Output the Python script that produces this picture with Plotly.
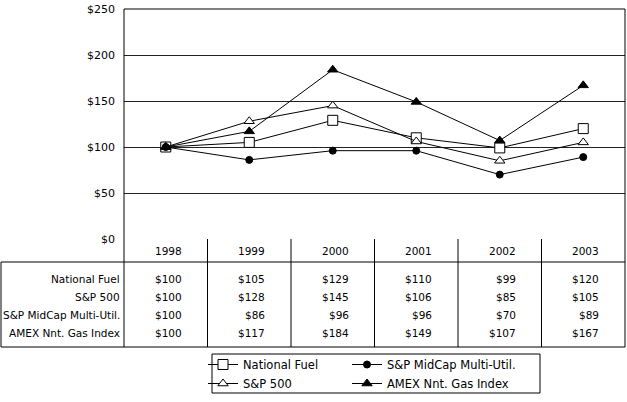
import plotly.graph_objects as go

years = ['1998', '1999', '2000', '2001', '2002', '2003']
series_names = ['National Fuel', 'S&P 500', 'S&P MidCap Multi-Util.', 'AMEX Nnt. Gas Index']
national_fuel = [100, 105, 129, 110, 99, 120]
sp500 = [100, 128, 145, 106, 85, 105]
midcap_util = [100, 86, 96, 96, 70, 89]
amex_gas = [100, 117, 184, 149, 107, 167]
y_ticks = [0, 50, 100, 150, 200, 250]

values = {
    'National Fuel': national_fuel,
    'S&P 500': sp500,
    'S&P MidCap Multi-Util.': midcap_util,
    'AMEX Nnt. Gas Index': amex_gas,
}

# marker style per series; left legend column / right legend column
styles = {
    'National Fuel': dict(symbol='square', size=10, color='white', legend='legend'),
    'S&P 500': dict(symbol='triangle-up', size=9, color='white', legend='legend'),
    'S&P MidCap Multi-Util.': dict(symbol='circle', size=7, color='black', legend='legend2'),
    'AMEX Nnt. Gas Index': dict(symbol='triangle-up', size=9, color='black', legend='legend2'),
}

FONT = 'DejaVu Sans'
FS = 10.5
LEG_FS = 11.5

fig = go.Figure()

for name in series_names:
    st = styles[name]
    fig.add_trace(go.Scatter(
        x=years, y=values[name], name=name, mode='lines+markers',
        line=dict(color='black', width=1),
        marker=dict(symbol=st['symbol'], size=st['size'], color=st['color'],
                    line=dict(color='black', width=1)),
        legend=st['legend'],
    ))

# plot area: x 124..625 px, y 9..239 px
def py(p):
    return (239 - p) / 230.0

def px(p):
    return (p - 124) / 501.0

line = dict(color='black', width=1)
shapes = []
# table frame
shapes.append(dict(type='line', xref='paper', yref='paper', x0=px(1), x1=1, y0=py(262), y1=py(262), line=line))
shapes.append(dict(type='line', xref='paper', yref='paper', x0=px(1), x1=1, y0=py(347), y1=py(347), line=line))
shapes.append(dict(type='line', xref='paper', yref='paper', x0=px(1), x1=px(1), y0=py(262), y1=py(347), line=line))
shapes.append(dict(type='line', xref='paper', yref='paper', x0=0, x1=0, y0=1, y1=py(347), line=line))
shapes.append(dict(type='line', xref='paper', yref='paper', x0=1, x1=1, y0=1, y1=py(347), line=line))
shapes.append(dict(type='line', xref='paper', yref='paper', x0=0, x1=1, y0=1, y1=1, line=line))
# column dividers
for i in range(len(years) - 1):
    shapes.append(dict(type='line', xref='x', yref='paper', x0=i + 0.5, x1=i + 0.5,
                       y0=0, y1=py(347), line=line))
# legend box
shapes.append(dict(type='rect', xref='paper', yref='paper', x0=px(212), x1=px(540),
                   y0=py(354), y1=py(393), line=line))

cell_font = dict(family=FONT, size=FS, color='black')
annotations = []
for i, y in enumerate(years):
    annotations.append(dict(x=i, y=py(251), xref='x', yref='paper', text=y, showarrow=False,
                            xanchor='right', yanchor='middle', xshift=18, font=cell_font))
row_y = [279, 297, 315, 333]
for name, ry in zip(series_names, row_y):
    annotations.append(dict(x=0, y=py(ry), xref='paper', yref='paper', text=name, showarrow=False,
                            xanchor='right', yanchor='middle', xshift=-2, font=cell_font))
    for i, v in enumerate(values[name]):
        annotations.append(dict(x=i, y=py(ry), xref='x', yref='paper', text='$' + str(v), showarrow=False,
                                xanchor='right', yanchor='middle', xshift=18, font=cell_font))

leg = dict(orientation='v', xanchor='left', yanchor='top', y=py(350),
           bgcolor='rgba(0,0,0,0)', borderwidth=0, tracegroupgap=0,
           font=dict(family=FONT, size=LEG_FS, color='black'))

fig.update_layout(
    width=627, height=402,
    margin=dict(l=124, r=2, t=9, b=163, autoexpand=False),
    paper_bgcolor='white', plot_bgcolor='white',
    font=dict(family=FONT, size=FS, color='black'),
    showlegend=True,
    legend=dict(leg, x=px(203)),
    legend2=dict(leg, x=px(347)),
    shapes=shapes,
    annotations=annotations,
)
fig.update_xaxes(type='category', range=[-0.5, 5.5], showticklabels=False, showgrid=False,
                 zeroline=False, showline=False, ticks='')
fig.update_yaxes(range=[0, 250], tickvals=y_ticks, ticktext=['$' + str(t) for t in y_ticks],
                 showgrid=True, gridcolor='#222', gridwidth=1, zeroline=False,
                 showline=False, ticks='', ticklabelstandoff=8,
                 tickfont=dict(family=FONT, size=11, color='black'))

# page body has a default 8px margin; drop it so the figure sits at the window corner
fig.write_html('out.html', config={'displayModeBar': False},
               post_script="document.body.style.margin='0px';")
